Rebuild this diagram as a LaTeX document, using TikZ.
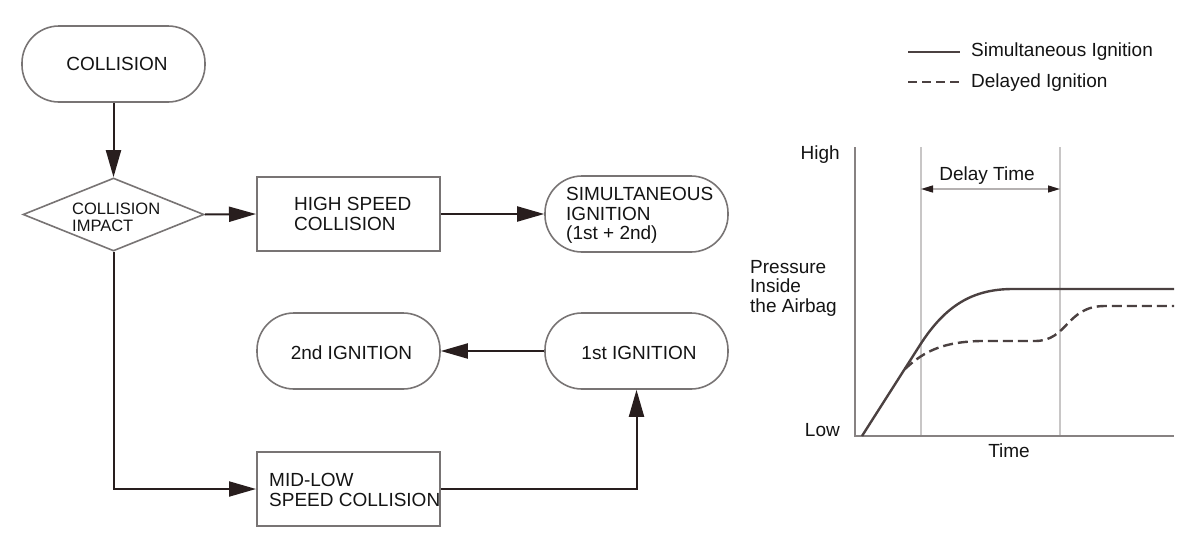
\documentclass[tikz,border=0pt]{standalone}
\usepackage{fontspec}
\setmainfont{Liberation Sans}
\usetikzlibrary{shapes.geometric,arrows.meta,calc}
\definecolor{conncol}{RGB}{40,30,30}
\definecolor{bordercol}{RGB}{120,116,116}
\definecolor{axiscol}{RGB}{135,130,130}
\definecolor{guidecol}{RGB}{200,198,198}
\definecolor{curvecol}{RGB}{75,65,65}
\definecolor{txtcol}{RGB}{20,20,20}
\begin{document}
\begin{tikzpicture}[x=1pt,y=-1pt,
  stad/.style={draw=bordercol, line width=1.6pt, rounded corners=37pt, minimum width=183pt, minimum height=76pt, inner sep=0pt},
  boxnode/.style={draw=bordercol, line width=2pt, minimum width=183pt, minimum height=74pt, inner sep=0pt},
  dianode/.style={draw=bordercol, line width=1.6pt, diamond, aspect=2.48, minimum width=181pt, minimum height=73pt, inner sep=0pt},
  conn/.style={draw=conncol, line width=2pt, -{Triangle[length=27pt,width=15pt]}},
  txt/.style={text=txtcol, inner sep=0pt, font=\fontsize{19}{19.5}\selectfont, align=left},
  smalltxt/.style={text=txtcol, inner sep=0pt, font=\fontsize{16.5}{17}\selectfont, align=left},
  curve/.style={draw=curvecol, line width=2.4pt},
  dashcurve/.style={curve, dash pattern=on 10pt off 5pt}
]
\useasboundingbox (0,0) rectangle (1200,552);
\fill[white] (0,0) rectangle (1200,552);

% flowchart shapes
\node[stad] (col) at (113.5,64) {};
\node[dianode] (dia) at (113.5,214.5) {};
\node[boxnode] (hs) at (348.5,214) {};
\node[stad] (sim) at (636.5,214) {};
\node[stad] (first) at (636.5,351) {};
\node[stad] (second) at (348.5,351) {};
\node[boxnode] (ml) at (348.5,489) {};

% texts (base anchor = baseline of last line)
\node[txt, anchor=base] (tcol) at (117,70) {COLLISION};
\node[smalltxt, anchor=base west] (tdia) at (72,231) {COLLISION\\IMPACT};
\node[txt, anchor=base west] (ths) at (294,230) {HIGH SPEED\\COLLISION};
\node[txt, anchor=base west] (tsim) at (566,239.5) {SIMULTANEOUS\\IGNITION\\(1st + 2nd)};
\node[txt, anchor=base] (tfirst) at (639,359) {1st IGNITION};
\node[txt, anchor=base] (tsecond) at (351.5,359) {2nd IGNITION};
\node[txt, anchor=base west] (tml) at (269,506) {MID-LOW\\SPEED COLLISION};

% connectors
\draw[conn] (col.south) -- (dia.north);
\draw[conn] (dia.east) -- (hs.west);
\draw[conn] (hs.east) -- (sim.west);
\draw[conn] (first.west) -- (second.east);
\draw[conn] (dia.south) |- (ml.west);
\draw[conn] (ml.east) -| (first.south);

% graph
\coordinate (o) at (855,436);
\coordinate (ytop) at (855,147);
\coordinate (xend) at (1174,436);
\coordinate (g1t) at (921,147);
\coordinate (g1b) at (921,436);
\coordinate (g2t) at (1060,147);
\coordinate (g2b) at (1060,436);
\draw[guidecol, line width=1.3pt] (g1t) -- (g1b);
\draw[guidecol, line width=1.3pt] (g2t) -- (g2b);
\draw[axiscol, line width=2.6pt] (ytop) -- (o) -- (xend);
\coordinate (da) at (921,189);
\coordinate (db) at (1060,189);
\draw[guidecol!70!axiscol, line width=1.4pt, {Triangle[length=12pt,width=7pt,color=conncol]}-{Triangle[length=12pt,width=7pt,color=conncol]}] (da) -- (db);

\draw[curve] (862,436) -- (920,345) .. controls (945,306) and (972,289) .. (1013,289) -- (1174,289);
\draw[dashcurve] (905,369) .. controls (925,350) and (945,342) .. (980,341) -- (1035,341) .. controls (1068,341) and (1066,306) .. (1105,306) -- (1174,306);

\node[txt, anchor=base east] (thigh) at (840,159) {High};
\node[txt, anchor=base east] (tlow) at (840,436) {Low};
\node[txt, anchor=base] (tdelay) at (987,180) {Delay Time};
\node[txt, anchor=base west] (tpress) at (750,312) {Pressure\\Inside\\the Airbag};
\node[txt, anchor=base] (ttime) at (1009,457) {Time};

% legend
\coordinate (l1a) at (908,52);
\coordinate (l1b) at (960,52);
\coordinate (l2a) at (908,82);
\coordinate (l2b) at (960,82);
\draw[curve, line width=2.6pt] (l1a) -- (l1b);
\draw[dashcurve, line width=2.6pt, dash pattern=on 9pt off 5pt] (l2a) -- (l2b);
\node[txt, anchor=base west] (tl1) at (971,56) {Simultaneous Ignition};
\node[txt, anchor=base west] (tl2) at (971,87) {Delayed Ignition};
\end{tikzpicture}
\end{document}
